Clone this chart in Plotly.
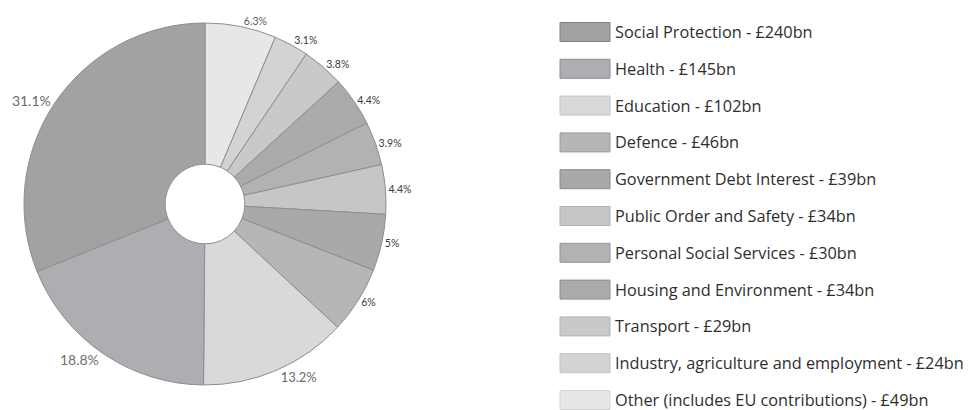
import plotly.graph_objects as go

# ---- data ----
categories = [
    "Social Protection", "Health", "Education", "Defence",
    "Government Debt Interest", "Public Order and Safety",
    "Personal Social Services", "Housing and Environment", "Transport",
    "Industry, agriculture and employment", "Other (includes EU contributions)",
]
spend_bn = [240, 145, 102, 46, 39, 34, 30, 34, 29, 24, 49]
percent_labels = ["31.1%", "18.8%", "13.2%", "6%", "5%", "4.4%", "3.9%",
                  "4.4%", "3.8%", "3.1%", "6.3%"]

# ---- styles ----
slice_colors = ["#a2a2a2", "#aeaeb2", "#d9d9d9", "#b6b6b8", "#a9a9a9", "#c6c6c6",
                "#b2b2b2", "#ababab", "#c9c9c9", "#d3d3d3", "#e7e7e7"]
swatch_lines = ["#7e7e7e", "#8c8c92", "#c4c4c4", "#9c9c9c", "#8a8a8a", "#b0b0b0",
                "#959595", "#8e8e8e", "#b4b4b4", "#c2c2c2", "#d6d6d6"]
label_sizes = [14, 14, 13, 10.5, 10.5, 10.5, 10.5, 10.5, 10.5, 10.5, 10.5]
label_colors = ["#6a6a6a", "#707070", "#6a6a6a", "#3a3a3a", "#3a3a3a", "#3a3a3a",
                "#3a3a3a", "#3a3a3a", "#3a3a3a", "#3a3a3a", "#5a5a5a"]

W, H = 971, 410
FONT = "Lato"
LEGEND_FONT = "Open Sans"

# pie placement (pixels): centre and domain half-size
CX, CY, HALF = 205, 204, 181

# slices run counter-clockwise from 12 o'clock in legend order -> feed the pie
# the reversed lists and draw clockwise
rev = lambda seq: list(seq)[::-1]

fig = go.Figure(go.Pie(
    labels=rev(categories),
    values=rev(spend_bn),
    text=rev(percent_labels),
    texttemplate="%{text}",
    textposition="outside",
    textfont=dict(family=FONT, size=rev(label_sizes), color=rev(label_colors)),
    hole=0.22,
    sort=False,
    direction="clockwise",
    rotation=0,
    marker=dict(colors=rev(slice_colors), line=dict(color="#8e8e8e", width=1)),
    domain=dict(x=[(CX - HALF) / W, (CX + HALF) / W],
                y=[(H - CY - HALF) / H, (H - CY + HALF) / H]),
    showlegend=False,
    hoverinfo="label+value",
))

# ---- hand-built legend (rows spaced like the reference) ----
row0, row_gap = 32, 36.8
sw_x0, sw_x1, sw_h, text_x = 560, 610, 19, 613
shapes, annotations = [], []
for i, (cat, val) in enumerate(zip(categories, spend_bn)):
    yc = row0 + i * row_gap
    shapes.append(dict(
        type="rect", xref="paper", yref="paper",
        x0=sw_x0 / W, x1=sw_x1 / W,
        y0=1 - (yc - sw_h / 2) / H, y1=1 - (yc + sw_h / 2) / H,
        fillcolor=slice_colors[i], line=dict(color=swatch_lines[i], width=1),
    ))
    annotations.append(dict(
        xref="paper", yref="paper", x=text_x / W, y=1 - yc / H,
        xanchor="left", yanchor="middle", showarrow=False,
        text=f"{cat} - £{val}bn",
        font=dict(family=LEGEND_FONT, size=16.3, color="#2e2e2e"),
    ))

fig.update_layout(
    width=W, height=H,
    margin=dict(l=0, r=0, t=0, b=0),
    paper_bgcolor="white", plot_bgcolor="white",
    shapes=shapes, annotations=annotations,
)

fig.write_html("out.html")
